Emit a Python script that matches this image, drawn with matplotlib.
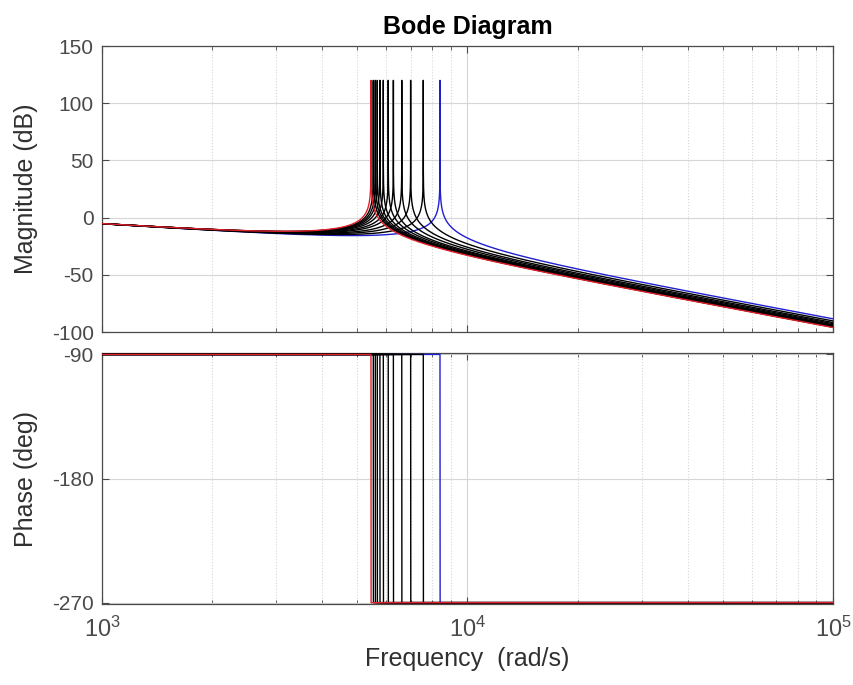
import numpy as np
import matplotlib.pyplot as plt

# resonance frequencies (rad/s), first one drawn blue, last one red
wn_list = [8410, 7570, 6990, 6610, 6270, 6070, 5885, 5760, 5665, 5595, 5525, 5445]
gain = 530.0          # integrator gain, sets the low-frequency level (~ -5 dB at 1e3)
peak_clip_db = 120.0  # peaks are cut off here, as in the original

mag_ticks = [-100, -50, 0, 50, 100, 150]
phase_ticks = [-270, -180, -90]

plt.rcParams['font.family'] = ['Liberation Sans', 'DejaVu Sans']
plt.rcParams['mathtext.fontset'] = 'custom'
plt.rcParams['mathtext.rm'] = 'Liberation Sans'
plt.rcParams['mathtext.it'] = 'Liberation Sans'
plt.rcParams['axes.unicode_minus'] = False

tick_col = '#4a4a4a'
grid_col = '#d6d6d6'

fig = plt.figure(figsize=(8.54, 6.85), dpi=100)
ax_m = fig.add_axes([0.1194, 0.5153, 0.856, 0.4175])
ax_p = fig.add_axes([0.1194, 0.1182, 0.856, 0.3664], sharex=ax_m)


def response(wn):
    # G(s) = gain * wn^2 / (s (s^2 + wn^2)), undamped
    w = np.sort(np.concatenate([np.logspace(3, 5, 20000), [wn]]))
    with np.errstate(divide='ignore'):
        mag = 20 * np.log10(gain * wn**2 / (w * np.abs(wn**2 - w**2)))
    mag = np.minimum(mag, peak_clip_db)
    ph = np.where(w <= wn, -90.0, -270.0)
    return w, mag, ph


n = len(wn_list)
for i, wn in enumerate(wn_list):
    if i == 0:
        col = '#1f1fd0'
    elif i == n - 1:
        col = '#e0202a'
    else:
        col = 'black'
    w, mag, ph = response(wn)
    ax_m.plot(w, mag, color=col, lw=1.0, zorder=3 + i)
    ax_p.plot(w, ph, color=col, lw=1.0, zorder=3 + i)

for ax in (ax_m, ax_p):
    ax.set_xscale('log')
    ax.set_xlim(1e3, 1e5)
    ax.grid(True, which='major', color=grid_col, lw=0.8, ls='-')
    ax.grid(True, which='minor', axis='x', color=grid_col, lw=0.8, ls=':')
    ax.tick_params(which='both', direction='in', top=True, right=True,
                   colors=tick_col, labelcolor=tick_col, labelsize=15)
    ax.tick_params(which='major', length=5)
    ax.tick_params(which='minor', length=3)
    for sp in ax.spines.values():
        sp.set_color(tick_col)
        sp.set_linewidth(0.9)
    ax.set_axisbelow(True)

ax_m.set_ylim(-100, 150)
ax_m.set_yticks(mag_ticks)
ax_m.tick_params(labelbottom=False)
ax_m.tick_params(axis='y', pad=6)
ax_m.set_ylabel('Magnitude (dB)', fontsize=18, color='#303030', labelpad=10)
ax_m.set_title('Bode Diagram', fontsize=18, fontweight='bold', pad=9)

ax_p.set_ylim(-271, -89)
ax_p.set_yticks(phase_ticks)
ax_p.tick_params(axis='y', pad=6)
ax_p.set_ylabel('Phase (deg)', fontsize=18, color='#303030', labelpad=10)
ax_p.set_xlabel('Frequency  (rad/s)', fontsize=18, color='#303030', labelpad=4)
ax_p.tick_params(axis='x', which='major', pad=9, labelsize=17)

fig.savefig('out.png', dpi=100)
